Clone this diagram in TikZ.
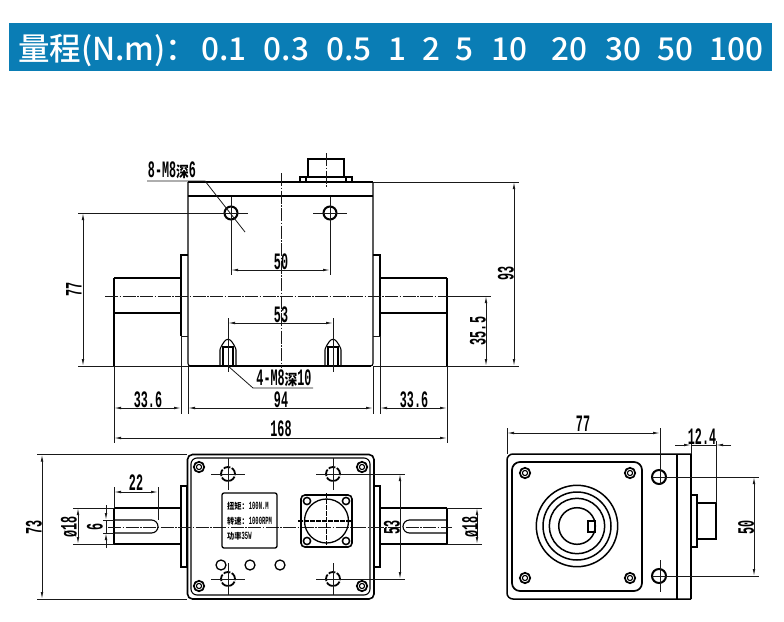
\documentclass[tikz,border=0pt]{standalone}
\usepackage{fontspec}
\usetikzlibrary{arrows.meta}
\newfontfamily\cadf[FakeStretch=0.5]{Liberation Mono}
\newfontfamily\cjkd[FakeStretch=0.85]{Noto Sans CJK SC Bold}
\newfontfamily\banf{Noto Sans CJK SC Medium}
\definecolor{banblue}{HTML}{0A7DB5}
\tikzset{
  x=1pt,y=-1pt,
  thin line/.style={line width=0.8pt,black!90},
  med line/.style={line width=1.1pt,black},
  thick line/.style={line width=1.8pt,black},
  center line/.style={line width=0.9pt,black!90,dash pattern=on 13pt off 1.5pt on 1.5pt off 1.5pt},
  hid line/.style={line width=1.1pt,black,dash pattern=on 5pt off 1pt},
  dimline/.style={line width=0.8pt,black!90,{Latex[length=7pt,width=2.6pt]}-{Latex[length=7pt,width=2.6pt]}},
  oneway/.style={line width=0.8pt,black!90,-{Latex[length=7pt,width=2.6pt]}},
  dimtext/.style={inner sep=0pt,font=\cadf\bfseries\fontsize{23.5}{24}\selectfont},
  smalltext/.style={inner sep=0pt,anchor=west,font=\cadf\bfseries\fontsize{11}{12}\selectfont},
  bantext/.style={inner sep=0pt,text=white,font=\banf\fontsize{31.5}{34}\selectfont},
}
\newcommand\cornerscrew[2]{\draw[line width=1.7pt] (#1,#2) circle[radius=5.2pt]; \draw[line width=1.1pt] (#1,#2) circle[radius=2.6pt];}
\begin{document}
\begin{tikzpicture}
\useasboundingbox (0,0) rectangle (784,621);
% banner
\fill[banblue] (9,22.5) rectangle (772,70.5);
\node[bantext,anchor=base west] (t0) at (18,60) {量程(N.m)：};
\foreach \xx/\tt/\nn in {224/0.1/a,286.5/0.3/b,349/0.5/c,397/1/d,431/2/e,464.5/5/f,509.5/10/g,569.5/20/h,623.5/30/i,675.5/50/j,736.5/100/k}
  \node[bantext,anchor=base] (t\nn) at (\xx,60) {\tt};

% ---------- front view
\draw[thick line] (188,182) -- (373,182);
\draw[thick line] (188,196) -- (373,196);
\draw[med line,rounded corners=2.5pt] (188,182) -- (188,366) -- (373,366) -- (373,182);
\draw[thick line] (190,366) -- (371,366);
\draw[thick line] (181,336) -- (181,255) -- (188,255);
\draw[thick line] (380,336) -- (380,255) -- (373,255);
\draw[thin line] (181,336) -- (188,336) (373,336) -- (380,336);
\draw[thick line] (114,278) -- (181,278) (380,278) -- (447,278);
\draw[med line] (114,278) -- (114,313) ;
\draw[med line] (114,313) -- (181,313) (380,313) -- (447,313);
\draw[med line] (447,278) -- (447,366);
\draw[med line] (114,313) -- (114,366);
% connector
\draw[med line] (300,182) -- (300,177) -- (352,177) -- (352,182);
\draw[med line] (306,177) -- (306,182) (346,177) -- (346,182);
\draw[med line] (308,177) -- (308,159) -- (344,159) -- (344,177);
\draw[center line] (326,153) -- (326,187);
% holes
\foreach \hx in {231,330}{
  \draw[line width=2pt] (\hx,213) circle[radius=6.5pt];
  \draw[thin line] (\hx,197) -- (\hx,275);
  \draw[thin line] (\hx-17,213) -- (\hx+17,213);
}
\draw[thin line] (78,213) -- (231,213);
% centre lines
\draw[center line] (105,296) -- (491,296);
\draw[center line] (281,173) -- (281,368);
% bolts
\foreach \bx in {228,333}{
  \draw[med line,rounded corners=1pt] (\bx-8,366) -- (\bx-8,349) -- (\bx-6,345) -- (\bx-3,340.5) -- (\bx,339) -- (\bx+3,340.5) -- (\bx+6,345) -- (\bx+8,349) -- (\bx+8,366);
  \draw[med line] (\bx-6,347) -- (\bx+6,347);
  \draw[med line] (\bx-5,347) -- (\bx-5,366) (\bx+5,347) -- (\bx+5,366);
  \draw[thin line] (\bx,318) -- (\bx,372);
}
% extension lines
\draw[thin line] (78,366) -- (190,366);
\draw[thin line] (373,366) -- (519,366);
\draw[thin line] (373,182) -- (519,182);
\draw[thin line] (447,296) -- (491,296);
\draw[thin line] (114,366) -- (114,443);
\draw[thin line] (181,336) -- (181,414);
\draw[thin line] (188,366) -- (188,414);
\draw[thin line] (373,366) -- (373,414);
\draw[thin line] (380,336) -- (380,414);
\draw[thin line] (447,366) -- (447,443);
% dims
\draw[dimline] (83,213) -- (83,366);
\node[dimtext,rotate=90] (d77) at (74,289) {77};
\draw[dimline] (514,182) -- (514,366);
\node[dimtext,rotate=90] (d93) at (506,273) {93};
\draw[dimline] (486,296) -- (486,366);
\node[dimtext,rotate=90] (d355) at (478,331) {35.5};
\draw[dimline] (231,270) -- (330,270);
\node[dimtext] (d50) at (281,262) {50};
\draw[dimline] (228,323) -- (333,323);
\node[dimtext] (d53) at (281,314.5) {53};
\draw[dimline] (114,408) -- (181,408);
\node[dimtext] (d336a) at (148,400) {33.6};
\draw[dimline] (188,408) -- (373,408);
\node[dimtext] (d94) at (281,400) {94};
\draw[dimline] (380,408) -- (447,408);
\node[dimtext] (d336b) at (414,400) {33.6};
\draw[dimline] (114,438) -- (447,438);
\node[dimtext] (d168) at (281,429) {168};
% leaders
\node[dimtext,anchor=base] (l1) at (172,177.5) {8-M8{\cjkd\fontsize{15}{16}\selectfont 深}6};
\coordinate (l1a) at (147,181);
\coordinate (l1b) at (205,181);
\coordinate (l1c) at (245,232);
\draw[thin line] (l1a) -- (l1b) -- (l1c);
\node[dimtext,anchor=base] (l2) at (284,385) {4-M8{\cjkd\fontsize{15}{16}\selectfont 深}10};
\coordinate (l2a) at (228,366);
\coordinate (l2b) at (253,388);
\coordinate (l2c) at (313,388);
\draw[thin line] (l2a) -- (l2b) -- (l2c);

% ---------- plan view
\draw[line width=1.6pt,rounded corners=5pt] (187.5,454.5) rectangle (374,599);
\draw[med line,rounded corners=6pt] (191,458) rectangle (370,595);
\foreach \cx/\cy in {199/467,362/467,199/586,362/586} {\cornerscrew{\cx}{\cy}}
\foreach \cx/\cy in {228/474,333/474,228/579,333/579}{
  \draw[line width=1.8pt,dash pattern=on 7pt off 1.5pt] (\cx,\cy) circle[radius=7pt];
  \draw[thin line] (\cx-17,\cy) -- (\cx+17,\cy) (\cx,\cy-16) -- (\cx,\cy+16);
}
\draw[line width=1.3pt] (181,486) rectangle (187,567);
\draw[line width=1.3pt] (374,486) rectangle (380,567);
\draw[thick line] (114,508) -- (181,508) (380,508) -- (447,508);
\draw[med line] (114,544) -- (181,544) (380,544) -- (447,544);
\draw[med line] (114,508) -- (114,544) (447,508) -- (447,544);
\draw[med line] (114,520) -- (151.5,520) arc[start angle=-90,end angle=90,radius=6.5] -- (114,533);
\draw[med line] (447,520) -- (409.5,520) arc[start angle=-90,end angle=-270,radius=6.5] -- (447,533);
\draw[center line] (108,527) -- (452,527);
% label box
\draw[line width=1.3pt,rounded corners=2pt] (222,493) rectangle (277,548);
\node[smalltext] (la) at (227,506) {{\cjkd\fontsize{8.5}{9}\selectfont 扭矩：}100N.M};
\node[smalltext] (lb) at (227,521) {{\cjkd\fontsize{8.5}{9}\selectfont 转速：}1000RPM};
\node[smalltext] (lc) at (227,536) {{\cjkd\fontsize{8.5}{9}\selectfont 功率}35W};
% plug
\draw[line width=1.6pt,rounded corners=4pt] (301,495) rectangle (352,547);
\draw[line width=1.3pt] (326.5,521) circle[radius=22pt];
\foreach \cx/\cy in {307/501,346/501,307/541,346/541}{
  \draw[line width=1.5pt] (\cx,\cy) circle[radius=3.6pt];
}
\draw[hid line] (298,521) -- (353,521) (326.5,493) -- (326.5,545);
% small circles
\foreach \cx in {221,250,280} {\draw[line width=1.3pt] (\cx,565) circle[radius=5pt];}
% plan dims
\draw[thin line] (37,454.5) -- (187,454.5) (37,599) -- (187,599);
\draw[dimline] (42,454.5) -- (42,599);
\node[dimtext,rotate=90] (p73) at (34,527) {73};
\draw[thin line] (114,487) -- (114,508) (158,487) -- (158,520);
\draw[dimline] (114,492) -- (158,492);
\node[dimtext] (p22) at (136,483) {22};
\draw[thin line] (73,508) -- (114,508) (73,544) -- (114,544);
\draw[dimline] (78,508) -- (78,544);
\node[dimtext,rotate=90] (p18) at (69,527) {ø18};
\draw[thin line] (103,520) -- (114,520) (103,533) -- (114,533);
\draw[oneway] (106,505) -- (106,520);
\draw[oneway] (106,548) -- (106,533);
\draw[thin line] (106,520) -- (106,533);
\node[dimtext,rotate=90] (p6) at (95,527) {6};
\draw[thin line] (333,474) -- (405,474) (333,579) -- (405,579);
\draw[dimline] (400,474) -- (400,579);
\node[dimtext,rotate=90] (p53) at (392,527) {53};
\draw[thin line] (447,508) -- (482,508) (447,544) -- (482,544);
\draw[dimline] (477,508) -- (477,544);
\node[dimtext,rotate=90] (p18b) at (470,527) {ø18};

% ---------- side view
\draw[line width=1.5pt,rounded corners=6pt] (691,454) -- (507,454) -- (507,599) -- (691,599);
\draw[med line] (691,454) -- (691,599);
\draw[line width=1.5pt] (677,454) -- (677,599);
\draw[line width=1.7pt,rounded corners=8pt] (512,462) rectangle (642,591);
\foreach \cx/\cy in {525/473,630/473,525/578,630/578} {\cornerscrew{\cx}{\cy}}
\foreach \rr in {40.7,34,27.7,18.3} {\draw[line width=1.5pt] (577,526) circle[radius=\rr pt];}
\draw[med line] (588,521) rectangle (595,532);
\foreach \cy in {477,576}{
  \draw[line width=2pt] (659,\cy) circle[radius=7pt];
  \draw[thin line] (652,\cy) -- (759,\cy);
}
\draw[thin line] (660,428) -- (660,485) (660,560) -- (660,592);
\draw[med line] (691,495) rectangle (697,547);
\draw[med line] (697,503) rectangle (716,539);
\draw[thin line] (507,428) -- (507,454);
\draw[dimline] (507,433) -- (660,433);
\node[dimtext] (s77) at (583,424) {77};
\draw[thin line] (691,441) -- (691,454) (716,441) -- (716,503);
\draw[oneway] (675,445) -- (691,445);
\draw[oneway] (731,445) -- (716,445);
\draw[thin line] (691,445) -- (716,445);
\node[dimtext] (s124) at (702,437) {12.4};
\draw[dimline] (754,477) -- (754,576);
\node[dimtext,rotate=90] (s50) at (746,527) {50};
\end{tikzpicture}
\end{document}
